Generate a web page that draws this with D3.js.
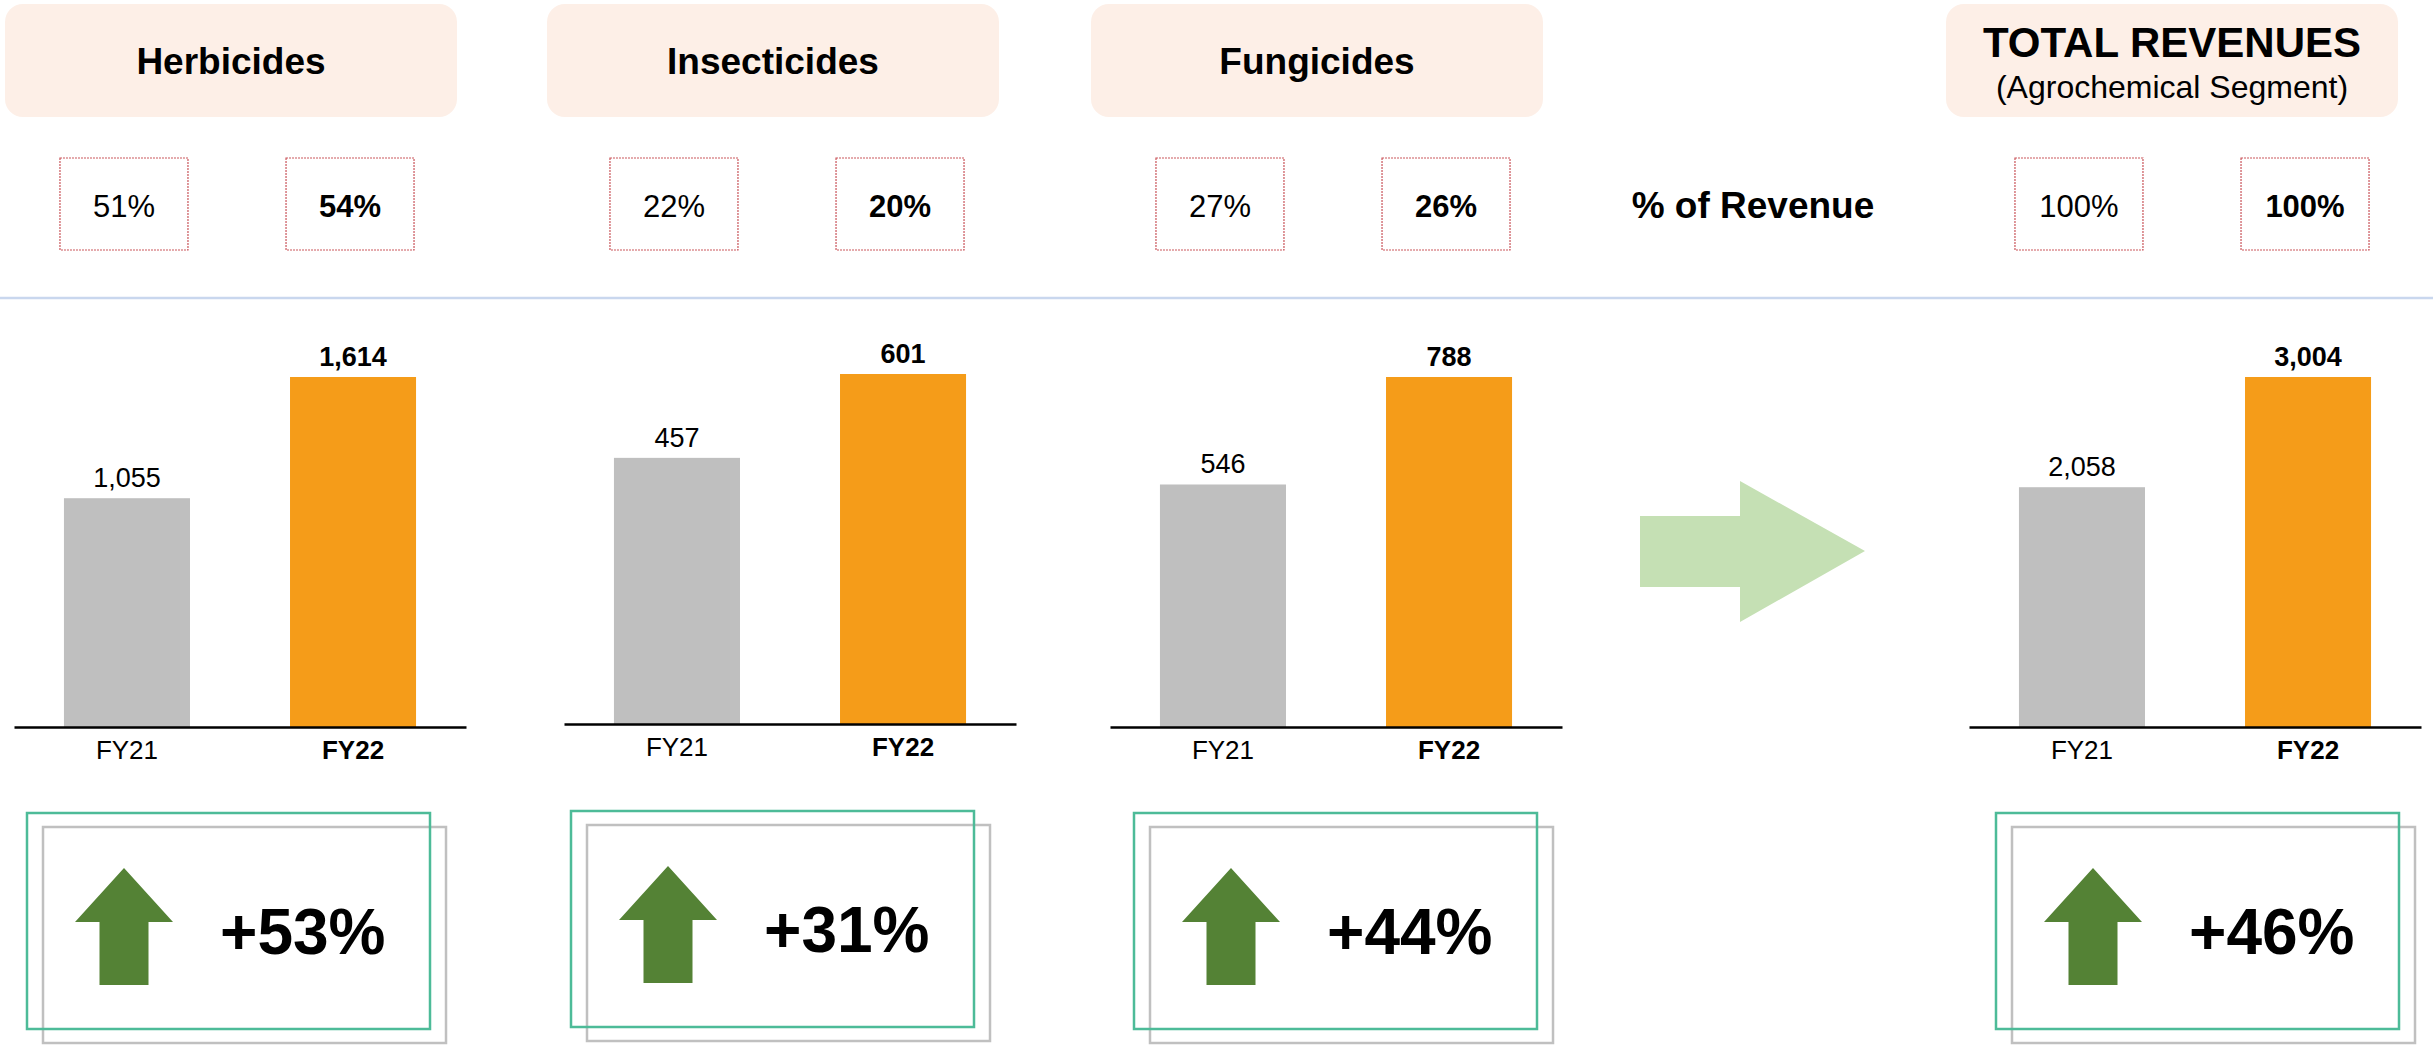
<!DOCTYPE html>
<html>
<head>
<meta charset="utf-8">
<script src="https://cdn.jsdelivr.net/npm/d3@7"></script>
<style>
  body { margin: 0; background: #fff; }
  text { font-family: "Liberation Sans", Arial, sans-serif; fill: #000; }
</style>
</head>
<body>
<script>
// data
var categories = ["Herbicides", "Insecticides", "Fungicides", "TOTAL REVENUES"];
var subtitle = "(Agrochemical Segment)";
var years = ["FY21", "FY22"];
var fy21 = [1055, 457, 546, 2058];
var fy22 = [1614, 601, 788, 3004];
var shareFY21 = ["51%", "22%", "27%", "100%"];
var shareFY22 = ["54%", "20%", "26%", "100%"];
var growth = ["+53%", "+31%", "+44%", "+46%"];
var shareLabel = "% of Revenue";

// layout
var W = 2433, H = 1045;
var panelX = [14, 564, 1110, 1969];
var panelDy = [0, -3, 0, 0];
var headerX = [5, 547, 1091, 1946];
var growthX = [27, 571, 1134, 1996];
var PANEL_W = 452;
var BASE_Y = 727, BAR_H = 350;

var fmt = d3.format(",");

var svg = d3.select("body").append("svg")
    .attr("width", W)
    .attr("height", H);

// separator
svg.append("line")
    .attr("x1", 0).attr("x2", W)
    .attr("y1", 298).attr("y2", 298)
    .attr("stroke", "#c9d7ee")
    .attr("stroke-width", 2.5);

// big arrow between panels
svg.append("path")
    .attr("d", "M1640,516 L1740,516 L1740,481 L1865,551 L1740,622 L1740,587 L1640,587 Z")
    .attr("fill", "#c5e0b4");

svg.append("text")
    .attr("x", 1753).attr("y", 218)
    .attr("text-anchor", "middle")
    .attr("font-size", 37).attr("font-weight", "bold")
    .text(shareLabel);

categories.forEach(function (cat, i) {
    var g = svg.append("g");
    var dy = panelDy[i];

    // header box
    g.append("rect")
        .attr("x", headerX[i]).attr("y", 4)
        .attr("width", PANEL_W).attr("height", 113)
        .attr("rx", 18)
        .attr("fill", "#fdefe7");
    var cx = headerX[i] + PANEL_W / 2;
    if (i === 3) {
        g.append("text").attr("x", cx).attr("y", 57)
            .attr("text-anchor", "middle")
            .attr("font-size", 42).attr("font-weight", "bold")
            .text(cat);
        g.append("text").attr("x", cx).attr("y", 98)
            .attr("text-anchor", "middle")
            .attr("font-size", 32)
            .text(subtitle);
    } else {
        g.append("text").attr("x", cx).attr("y", 74)
            .attr("text-anchor", "middle")
            .attr("font-size", 37).attr("font-weight", "bold")
            .text(cat);
    }

    // scales
    var vals = [fy21[i], fy22[i]];
    var xScale = d3.scaleBand()
        .domain(years)
        .range([panelX[i], panelX[i] + PANEL_W])
        .paddingInner(0.4425)
        .paddingOuter(0.221);
    var yScale = d3.scaleLinear()
        .domain([0, d3.max(vals)])
        .range([BASE_Y + dy, BASE_Y + dy - BAR_H]);

    // share boxes
    var shares = [shareFY21[i], shareFY22[i]];
    years.forEach(function (yr, j) {
        var bx = xScale(yr) + xScale.bandwidth() / 2 - 3;
        g.append("rect")
            .attr("x", bx - 64).attr("y", 158)
            .attr("width", 128).attr("height", 92)
            .attr("fill", "none")
            .attr("stroke", "#c9545a")
            .attr("stroke-width", 1.2)
            .attr("stroke-dasharray", "2,1");
        g.append("text")
            .attr("x", bx).attr("y", 217)
            .attr("text-anchor", "middle")
            .attr("font-size", 31)
            .attr("font-weight", j === 1 ? "bold" : "normal")
            .text(shares[j]);
    });

    // bars
    g.selectAll("rect.bar")
        .data(vals)
        .enter().append("rect")
        .attr("class", "bar")
        .attr("x", function (d, j) { return xScale(years[j]); })
        .attr("y", function (d) { return yScale(d); })
        .attr("width", xScale.bandwidth())
        .attr("height", function (d) { return yScale(0) - yScale(d); })
        .attr("fill", function (d, j) { return j === 0 ? "#bfbfbf" : "#f59c19"; });

    g.selectAll("text.val")
        .data(vals)
        .enter().append("text")
        .attr("class", "val")
        .attr("x", function (d, j) { return xScale(years[j]) + xScale.bandwidth() / 2; })
        .attr("y", function (d) { return yScale(d) - 11; })
        .attr("text-anchor", "middle")
        .attr("font-size", 27)
        .attr("font-weight", function (d, j) { return j === 1 ? "bold" : "normal"; })
        .text(function (d) { return fmt(d); });

    // x axis
    var xAxis = d3.axisBottom(xScale).tickSize(0).tickSizeOuter(0).tickPadding(14);
    var ax = g.append("g")
        .attr("transform", "translate(0," + (BASE_Y + dy) + ")")
        .call(xAxis);
    ax.select(".domain").attr("stroke", "#000").attr("stroke-width", 2.5);
    ax.selectAll(".tick text")
        .attr("font-size", 26)
        .attr("font-family", "Liberation Sans, Arial, sans-serif")
        .attr("fill", "#000")
        .attr("font-weight", function (d) { return d === "FY22" ? "bold" : "normal"; });

    // growth box
    var L = growthX[i], T = 813 + (dy < 0 ? -2 : 0);
    g.append("rect")
        .attr("x", L + 16).attr("y", T + 14)
        .attr("width", 403).attr("height", 216)
        .attr("fill", "none")
        .attr("stroke", "#c0c0c0").attr("stroke-width", 2.5);
    g.append("rect")
        .attr("x", L).attr("y", T)
        .attr("width", 403).attr("height", 216)
        .attr("fill", "none")
        .attr("stroke", "#4dbb98").attr("stroke-width", 2.5);

    var ac = L + 97;
    g.append("path")
        .attr("d", "M" + ac + "," + (T + 55) +
            " L" + (ac + 49) + "," + (T + 109) +
            " L" + (ac + 24.5) + "," + (T + 109) +
            " L" + (ac + 24.5) + "," + (T + 172) +
            " L" + (ac - 24.5) + "," + (T + 172) +
            " L" + (ac - 24.5) + "," + (T + 109) +
            " L" + (ac - 49) + "," + (T + 109) + " Z")
        .attr("fill", "#548235");

    g.append("text")
        .attr("x", L + 193).attr("y", T + 141)
        .attr("font-size", 64).attr("font-weight", "bold")
        .text(growth[i]);
});
</script>
</body>
</html>
